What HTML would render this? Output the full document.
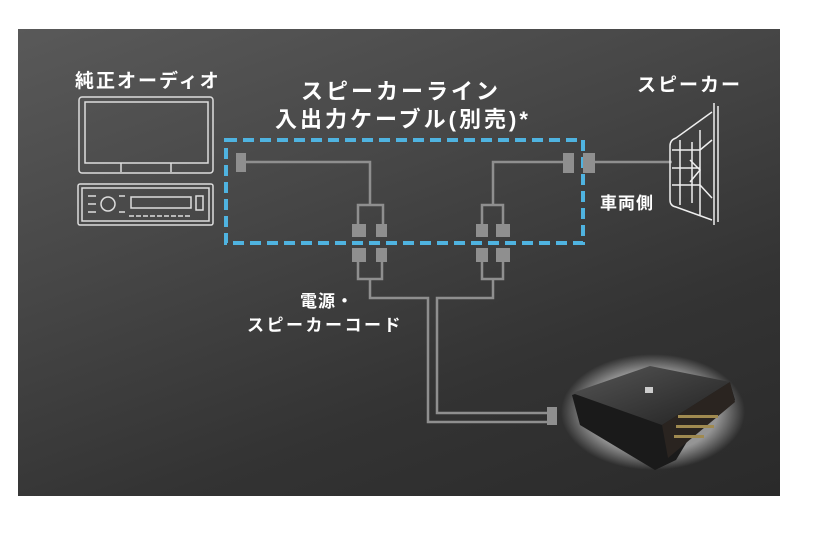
<!DOCTYPE html>
<html><head><meta charset="utf-8"><style>
html,body{margin:0;padding:0;background:#fff;width:820px;height:539px;overflow:hidden}
.t{position:absolute;color:#fff;font-family:"Liberation Sans","Noto Sans CJK JP",sans-serif;white-space:nowrap;font-weight:bold}
</style></head><body>
<div style="position:absolute;left:18px;top:29px;width:762px;height:467px;background:linear-gradient(160deg,#595959 0%,#474747 35%,#333 70%,#2a2a2a 100%)"></div>
<svg style="position:absolute;left:0;top:0" width="820" height="539">
<defs><radialGradient id="glow" cx="0.5" cy="0.5" r="0.5"><stop offset="0.7" stop-color="#fff" stop-opacity="0.9"/><stop offset="1" stop-color="#fff" stop-opacity="0"/></radialGradient>
<linearGradient id="top" x1="0" y1="0" x2="1" y2="1"><stop offset="0" stop-color="#555"/><stop offset="1" stop-color="#222"/></linearGradient></defs>
<g fill="none" stroke="#ddd" stroke-width="1.5">
<rect x="79" y="97" width="134" height="76" rx="3"/>
<rect x="85" y="102" width="123" height="61"/>
<path d="M121 163v9M171 163v9"/>
<rect x="78" y="184" width="135" height="41" rx="2"/>
<rect x="82" y="188" width="127" height="33"/>
<circle cx="108" cy="204" r="7"/>
<path d="M88 196h8M88 204h8M88 212h8M119 196h6M119 212h6"/>
<rect x="131" y="197" width="60" height="11"/>
<rect x="196" y="196" width="7" height="14"/>
<path d="M129 216h62" stroke-dasharray="5 2"/>
</g>
<rect x="226" y="140" width="357" height="103" fill="none" stroke="#4fb3e0" stroke-width="4" stroke-dasharray="11 6"/>
<g stroke="#8f8f8f" stroke-width="2.5" fill="none">
<path d="M245 162H370V205M358 224V205H383V224M358 262V279H382V262M370 279V298H428V422H547"/>
<path d="M563 162H493V205M482 224V205H503V224M482 262V279H503V262M493 279V298H437V413H547"/>
<path d="M595 162H672"/>
</g>
<g fill="#8f8f8f">
<rect x="236" y="153" width="10" height="19"/>
<rect x="352" y="224" width="14" height="13"/><rect x="376" y="224" width="11" height="13"/>
<rect x="352" y="248" width="14" height="14"/><rect x="376" y="248" width="11" height="14"/>
<rect x="476" y="224" width="12" height="13"/><rect x="496" y="224" width="14" height="13"/>
<rect x="476" y="248" width="12" height="14"/><rect x="496" y="248" width="14" height="14"/>
<rect x="563" y="153" width="11" height="20"/>
<rect x="583" y="153" width="12" height="20"/>
<rect x="547" y="407" width="10" height="18"/>
</g>
<g fill="none" stroke="#eee" stroke-width="1.5">
<path d="M714 103V225M718 106V222"/>
<path d="M712 112L676 138Q670 140 670 146V200Q670 206 676 207L712 220"/>
<path d="M680 140V205M692 142V203M700 130V215"/>
<path d="M672 150H700M672 168H700M672 185H700M700 150L712 140M700 185L712 198M690 160L700 170L690 182"/>
</g>
<ellipse cx="653" cy="412" rx="92" ry="58" fill="url(#glow)" opacity="0.55"/>
<polygon points="572,395 650,368 730,383 735,400 700,420 676,460 655,470 580,425" fill="#1a1a1a"/>
<polygon points="572,393 650,366 730,382 662,425" fill="url(#top)"/>
<polygon points="662,425 730,382 735,402 668,458" fill="#2a2420"/>
<g fill="#a08a50"><rect x="678" y="415" width="40" height="3"/><rect x="676" y="425" width="38" height="3"/><rect x="674" y="435" width="30" height="3"/></g>
<rect x="645" y="387" width="8" height="6" fill="#ccc"/>
</svg>
<div class="t" style="left:75px;top:66px;font-size:19px;letter-spacing:2px">純正オーディオ</div>
<div class="t" style="left:301px;top:74px;font-size:22px;letter-spacing:3px">スピーカーライン</div>
<div class="t" style="left:275px;top:102px;font-size:22px;letter-spacing:3px">入出力ケーブル(別売)*</div>
<div class="t" style="left:637px;top:70px;font-size:19px;letter-spacing:2px">スピーカー</div>
<div class="t" style="left:600px;top:189px;font-size:17px;letter-spacing:1px">車両側</div>
<div class="t" style="left:300px;top:287px;font-size:17px;letter-spacing:1px">電源・</div>
<div class="t" style="left:247px;top:311px;font-size:17px;letter-spacing:2.5px">スピーカーコード</div>
</body></html>
